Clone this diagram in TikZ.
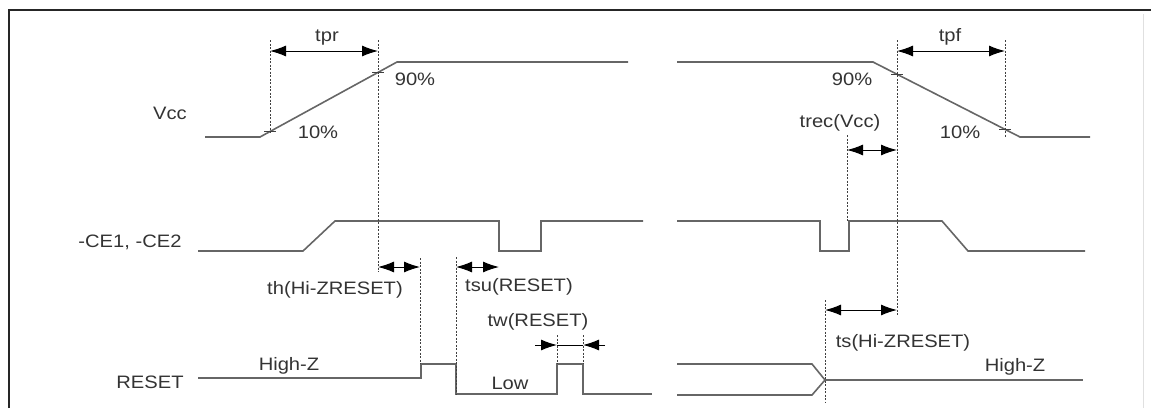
\documentclass[tikz,border=0pt]{standalone}
\usepackage{graphicx}
\usepackage{fontspec}
\setmainfont{Liberation Sans}
\usetikzlibrary{arrows.meta}
\newcommand\hs[1]{\scalebox{1.12}[1]{#1}}
\begin{document}
\begin{tikzpicture}[x=1pt,y=-1pt,
  sig/.style={draw=black!60, line width=1.6pt, line join=miter},
  dim/.style={draw=black!75, dash pattern=on 2pt off 1.5pt, line width=0.6pt},
  tick/.style={draw=black!75, line width=0.9pt},
  meas/.style={draw=black, line width=1pt, {Latex[length=16pt,width=11pt]}-{Latex[length=16pt,width=11pt]}},
  half/.style={draw=black, line width=1pt, -{Latex[length=16pt,width=11pt]}},
  lbl/.style={text=black!80, font=\fontsize{18}{20}\selectfont, inner sep=0pt}]
\useasboundingbox (0,0) rectangle (1151,408);
% frame
\draw[line width=2.8pt, black!85] (9,408) -- (9,10) -- (1151,10);
\draw[line width=0.8pt, black!12] (1143,14) -- (1143,408);

% ---- Vcc
\draw[sig] (205,137) -- (260,137) -- (397,62) -- (628,62);
\draw[sig] (677,62) -- (873,62) -- (1020,137) -- (1090,137);
\draw[tick] (264,131.5) -- (276,131.5);
\draw[tick] (372,72.5) -- (384,72.5);
\draw[tick] (891,74.5) -- (903,74.5);
\draw[tick] (999,129.5) -- (1011,129.5);

% ---- CE
\draw[sig] (198,251) -- (303,251) -- (335,221) -- (499,221) -- (499,251) -- (541,251) -- (541,221) -- (643,221);
\draw[sig] (677,221) -- (820,221) -- (820,251) -- (849,251) -- (849,221) -- (942,221) -- (968,251) -- (1085,251);

% ---- RESET
\draw[sig] (198,378) -- (421,378) -- (421,364) -- (456,364) -- (456,394) -- (557,394) -- (557,364) -- (583,364) -- (583,394) -- (652,394);
\draw[sig] (677,364) -- (812,364) -- (825,380) -- (812,395) -- (677,395);
\draw[sig] (825,380) -- (1083,380);

% ---- coordinates of dimension lines
\coordinate (prA) at (270,51);  \coordinate (prB) at (378,51);
\coordinate (pfA) at (897,51);  \coordinate (pfB) at (1005,51);
\coordinate (rcA) at (847,150); \coordinate (rcB) at (897,150);
\coordinate (thA) at (378,267); \coordinate (thB) at (420,267);
\coordinate (suA) at (456,267); \coordinate (suB) at (499,267);
\coordinate (tsA) at (825,310); \coordinate (tsB) at (897,310);
\coordinate (twL) at (535,345); \coordinate (twA) at (557,345);
\coordinate (twB) at (583,345); \coordinate (twR) at (605,345);

% ---- dashed reference lines
\draw[dim] (270,40) -- (270,133);
\draw[dim] (378,40) -- (378,272);
\draw[dim] (897,40) -- (897,315);
\draw[dim] (1005,40) -- (1005,138);
\draw[dim] (847,135) -- (847,221);
\draw[dim] (420,258) -- (420,364);
\draw[dim] (456,257) -- (456,394);
\draw[dim] (557,335) -- (557,364);
\draw[dim] (583,335) -- (583,364);
\draw[dim] (825,300) -- (825,402);

% ---- dimension arrows
\draw[meas] (prA) -- (prB);
\draw[meas] (pfA) -- (pfB);
\draw[meas] (rcA) -- (rcB);
\draw[meas] (thA) -- (thB);
\draw[meas] (suA) -- (suB);
\draw[meas] (tsA) -- (tsB);
\draw[half] (twL) -- (twA);
\draw[half] (twR) -- (twB);
\draw[draw=black, line width=1pt] (twA) -- (twB);

% ---- labels
\node[lbl] (vcc) at (170,113) {\hs{Vcc}};
\node[lbl] (p10a) at (318,132) {\hs{10\%}};
\node[lbl] (p90a) at (415,79) {\hs{90\%}};
\node[lbl] (tpr) at (327,38) {\hs{tpr}};
\node[lbl] (tpf) at (950,37) {\hs{tpf}};
\node[lbl] (p90b) at (852,79) {\hs{90\%}};
\node[lbl] (p10b) at (960,132) {\hs{10\%}};
\node[lbl] (trec) at (840,123) {\hs{trec(Vcc)}};
\node[lbl] (ce) at (130,242) {\hs{-CE1, -CE2}};
\node[lbl] (th) at (335,290) {\hs{th(Hi-ZRESET)}};
\node[lbl] (tsu) at (519,287) {\hs{tsu(RESET)}};
\node[lbl] (tw) at (538,322) {\hs{tw(RESET)}};
\node[lbl] (reset) at (150,382) {\hs{RESET}};
\node[lbl] (hz1) at (289,366) {\hs{High-Z}};
\node[lbl] (low) at (510,383) {\hs{Low}};
\node[lbl] (hz2) at (1015,367) {\hs{High-Z}};
\node[lbl] (ts) at (903,343) {\hs{ts(Hi-ZRESET)}};
\end{tikzpicture}
\end{document}
